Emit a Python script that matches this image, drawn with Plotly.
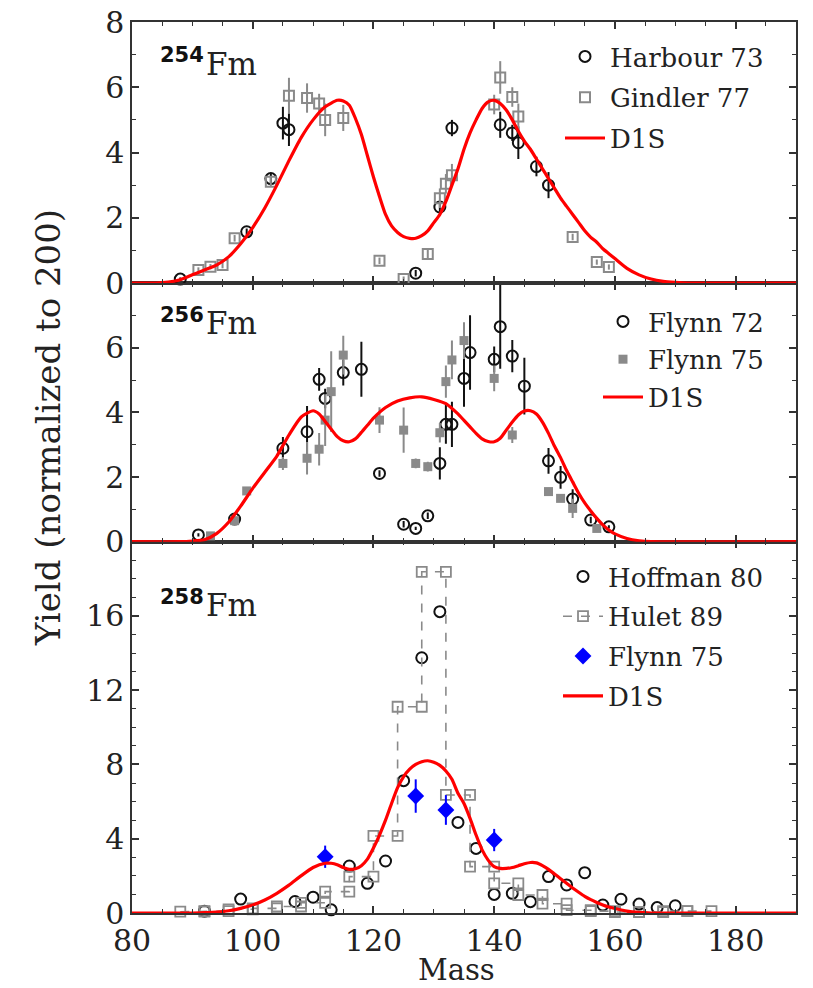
import plotly.graph_objects as go

# ---------------- data ----------------
# 254Fm
harbour_mass = [88, 99, 103, 105, 106, 127, 131, 133, 141, 143, 144, 147, 149]
harbour_yield = [0.12, 1.57, 3.2, 4.9, 4.7, 0.3, 2.33, 4.75, 4.85, 4.6, 4.3, 3.57, 3.0]
harbour_err = [0.05, 0.1, 0.15, 0.5, 0.5, 0.1, 0.15, 0.25, 0.4, 0.25, 0.5, 0.3, 0.4]

gindler_mass = [91, 93, 95, 97, 103, 106, 109, 111, 112, 115, 121, 125, 129, 131, 132, 133, 140, 141, 143, 144, 153, 157, 159]
gindler_yield = [0.4, 0.5, 0.55, 1.37, 3.1, 5.74, 5.67, 5.5, 5.0, 5.06, 0.68, 0.12, 0.89, 2.6, 3.04, 3.3, 5.47, 6.3, 5.7, 5.1, 1.41, 0.64, 0.49]
gindler_err = [0.08, 0.08, 0.1, 0.1, 0.15, 0.55, 0.45, 0.3, 0.5, 0.4, 0.1, 0.08, 0.15, 0.3, 0.3, 0.35, 0.3, 0.5, 0.3, 0.4, 0.1, 0.08, 0.08]

d1s_254_mass = [80, 84, 86, 88, 90, 92, 94, 96, 98, 100, 102, 104, 106, 108, 110, 112, 114, 115, 116, 117, 118, 119,
                120, 121, 122, 123, 124, 125, 126, 127, 128, 129, 130, 131, 132, 133, 134, 135, 136, 137, 138, 139,
                140, 141, 142, 143, 144, 145, 146, 147, 148, 149, 150, 151, 152, 153, 154, 155, 156, 157, 158, 159,
                160, 162, 164, 166, 168, 170, 172, 190]
d1s_254_yield = [0, 0, 0.03, 0.1, 0.25, 0.4, 0.55, 0.8, 1.2, 1.7, 2.3, 3.0, 3.75, 4.45, 5.0, 5.4, 5.6, 5.58, 5.45, 5.05, 4.55, 3.9,
                 3.25, 2.65, 2.1, 1.75, 1.55, 1.42, 1.37, 1.37, 1.45, 1.6, 1.85, 2.1, 2.5, 3.0, 3.5, 4.1, 4.6, 5.0, 5.35, 5.55,
                 5.6, 5.5, 5.3, 5.0, 4.65, 4.35, 4.1, 3.8, 3.5, 3.2, 2.9, 2.6, 2.35, 2.1, 1.85, 1.6, 1.4, 1.25, 1.05, 0.9,
                 0.75, 0.45, 0.25, 0.12, 0.05, 0.02, 0, 0]

# 256Fm
flynn72_mass = [91, 97, 105, 109, 111, 112, 115, 118, 121, 125, 127, 129, 131, 132, 133, 135, 136, 140, 141, 143, 145, 149, 151, 153, 156, 159]
flynn72_yield = [0.21, 0.7, 2.89, 3.4, 5.02, 4.43, 5.23, 5.33, 2.11, 0.54, 0.41, 0.8, 2.42, 3.63, 3.63, 5.05, 5.85, 5.64, 6.65, 5.74, 4.81, 2.5, 1.99, 1.32, 0.67, 0.46]
flynn72_err = [0.05, 0.05, 0.35, 0.8, 0.35, 0.3, 0.4, 0.85, 0.1, 0.1, 0.05, 0.1, 0.5, 0.6, 0.7, 0.88, 1.15, 0.4, 1.3, 0.5, 0.88, 0.4, 0.35, 0.3, 0.1, 0.05]

flynn75m_mass = [93, 97, 99, 105, 109, 111, 112, 113, 115, 121, 125, 127, 129, 131, 132, 133, 135, 140, 143, 149, 151, 153, 157]
flynn75m_yield = [0.18, 0.65, 1.57, 2.42, 2.58, 2.86, 3.76, 4.64, 5.77, 3.76, 3.45, 2.42, 2.32, 3.37, 4.95, 5.62, 6.22, 5.05, 3.3, 1.55, 1.34, 1.03, 0.41]
flynn75m_err = [0.05, 0.1, 0.1, 0.2, 0.5, 0.5, 0.8, 1.25, 0.6, 0.4, 0.7, 0.15, 0.15, 0.3, 0.5, 0.6, 0.57, 0.4, 0.25, 0.1, 0.1, 0.3, 0.1]

d1s_256_mass = [80, 88, 90, 92, 94, 96, 98, 100, 102, 104, 106, 108, 110, 111, 112, 113, 114, 115, 116, 117, 118, 119,
                120, 122, 124, 126, 128, 130, 132, 134, 135, 136, 137, 138, 139, 140, 141, 142, 143, 144, 145, 146,
                147, 148, 149, 150, 151, 152, 153, 154, 155, 156, 157, 158, 159, 160, 162, 164, 166, 190]
d1s_256_yield = [0, 0, 0.02, 0.06, 0.25, 0.6, 1.1, 1.65, 2.15, 2.65, 3.3, 3.85, 4.05, 3.95, 3.72, 3.48, 3.25, 3.12, 3.09, 3.18, 3.38, 3.6,
                 3.82, 4.15, 4.35, 4.45, 4.48, 4.4, 4.27, 3.95, 3.75, 3.55, 3.35, 3.18, 3.1, 3.09, 3.2, 3.45, 3.7, 3.92, 4.04, 4.05,
                 3.95, 3.7, 3.35, 2.95, 2.6, 2.2, 1.85, 1.5, 1.2, 0.95, 0.72, 0.52, 0.36, 0.24, 0.1, 0.03, 0, 0]

# 258Fm
hoffman_mass = [92, 98, 107, 110, 113, 116, 119, 122, 125, 128, 131, 134, 137, 140, 143, 146, 149, 152, 155, 158, 161, 164, 167, 170]
hoffman_yield = [0.1, 0.75, 0.62, 0.85, 0.17, 2.53, 1.6, 2.8, 7.13, 13.75, 16.23, 4.88, 3.48, 1.0, 1.06, 0.61, 1.96, 1.51, 2.17, 0.43, 0.74, 0.48, 0.29, 0.39]

hulet_bin_lo = [88, 92, 96, 100, 104, 108, 112, 116, 120, 124, 128, 132, 136, 140, 144, 148, 152, 156, 160, 164, 168, 172]
hulet_bin_hi = [92, 96, 100, 104, 108, 112, 116, 120, 124, 128, 132, 136, 140, 144, 148, 152, 156, 160, 164, 168, 172, 176]
hulet_yield = [0.07, 0.1, 0.2, 0.25, 0.35, 0.55, 1.15, 1.96, 4.15, 11.11, 18.38, 6.36, 2.5, 1.6, 0.97, 0.5, 0.15, 0.1, 0.05, 0.05, 0.1, 0.1]

flynn75b_mass = [112, 127, 132, 140]
flynn75b_yield = [3.03, 6.3, 5.55, 3.93]
flynn75b_err = [0.6, 0.9, 0.8, 0.6]

d1s_258_mass = [80, 90, 92, 94, 96, 98, 100, 102, 104, 106, 108, 110, 112, 113, 114, 115, 116, 117, 118, 119, 120, 121,
                122, 123, 124, 125, 126, 127, 128, 129, 130, 131, 132, 133, 134, 135, 136, 137, 138, 139, 140, 141,
                142, 143, 144, 145, 146, 147, 148, 149, 150, 151, 152, 153, 154, 155, 156, 157, 158, 159, 160, 162,
                164, 166, 190]
d1s_258_yield = [0, 0, 0.02, 0.05, 0.12, 0.25, 0.43, 0.7, 1.06, 1.5, 2.0, 2.45, 2.68, 2.68, 2.6, 2.45, 2.35, 2.38, 2.55, 2.9, 3.5, 4.2,
                 5.0, 5.9, 6.75, 7.35, 7.75, 8.0, 8.15, 8.2, 8.12, 7.95, 7.65, 7.2, 6.45, 5.9, 5.1, 4.2, 3.4, 2.85, 2.5, 2.4,
                 2.4, 2.45, 2.55, 2.65, 2.72, 2.7, 2.55, 2.35, 2.1, 1.85, 1.6, 1.35, 1.12, 0.9, 0.72, 0.57, 0.43, 0.32, 0.24, 0.1,
                 0.03, 0, 0]

# ---------------- geometry helpers ----------------
# the page body keeps its default 8px margin; figure is sized/offset to compensate
OFF = 8
W, H = 805, 980
PL, PR, PT, PB = 132, 796, 22, 913          # plot area in page pixels
L, T = PL - OFF, PT - OFF
R = W - (PR - OFF)
B = H - (PB - OFF)


def px_x(p):
    return (p - PL) / (PR - PL)


def px_y(p):
    return (PB - p) / (PB - PT)


SERIF = "DejaVu Serif"
GRAY = "#8a8a8a"
BLACK = "#111111"
RED = "#ff0000"

fig = go.Figure()


def err(arr, color):
    return dict(type="data", array=arr, visible=True, thickness=2, width=0, color=color)


# ---------------- top panel (254Fm) ----------------
fig.add_trace(go.Scatter(x=harbour_mass, y=harbour_yield, error_y=err(harbour_err, BLACK), mode="markers",
                         marker=dict(symbol="circle-open", size=11, color=BLACK, line=dict(width=2)),
                         name="Harbour 73", xaxis="x3", yaxis="y3", legend="legend3", legendgroup="a1",
                         cliponaxis=False))
fig.add_trace(go.Scatter(x=gindler_mass, y=gindler_yield, error_y=err(gindler_err, GRAY), mode="markers",
                         marker=dict(symbol="square-open", size=10, color=GRAY, line=dict(width=2)),
                         name="Gindler 77", xaxis="x3", yaxis="y3", legend="legend3", legendgroup="a2",
                         cliponaxis=False))
fig.add_trace(go.Scatter(x=d1s_254_mass, y=d1s_254_yield, mode="lines", line=dict(color=RED, width=3.2, shape="spline", smoothing=0.6),
                         name="D1S", xaxis="x3", yaxis="y3", legend="legend3", legendgroup="a3", cliponaxis=False))

# ---------------- middle panel (256Fm) ----------------
fig.add_trace(go.Scatter(x=flynn72_mass, y=flynn72_yield, error_y=err(flynn72_err, BLACK), mode="markers",
                         marker=dict(symbol="circle-open", size=11, color=BLACK, line=dict(width=2)),
                         name="Flynn 72", xaxis="x2", yaxis="y2", legend="legend2", legendgroup="b1",
                         cliponaxis=False))
fig.add_trace(go.Scatter(x=flynn75m_mass, y=flynn75m_yield, error_y=err(flynn75m_err, GRAY), mode="markers",
                         marker=dict(symbol="square", size=9, color=GRAY),
                         name="Flynn 75", xaxis="x2", yaxis="y2", legend="legend2", legendgroup="b2",
                         cliponaxis=False))
fig.add_trace(go.Scatter(x=d1s_256_mass, y=d1s_256_yield, mode="lines", line=dict(color=RED, width=3.2, shape="spline", smoothing=0.6),
                         name="D1S", xaxis="x2", yaxis="y2", legend="legend2", legendgroup="b3", cliponaxis=False))

# ---------------- bottom panel (258Fm) ----------------
hulet_x, hulet_y = [], []
for lo, hi, v in zip(hulet_bin_lo, hulet_bin_hi, hulet_yield):
    hulet_x += [lo, hi]
    hulet_y += [v, v]

fig.add_trace(go.Scatter(x=hoffman_mass, y=hoffman_yield, mode="markers",
                         marker=dict(symbol="circle-open", size=11, color=BLACK, line=dict(width=2)),
                         name="Hoffman 80", xaxis="x", yaxis="y", legend="legend", legendgroup="c1",
                         cliponaxis=False))
fig.add_trace(go.Scatter(x=hulet_x, y=hulet_y, mode="lines+markers",
                         line=dict(color=GRAY, width=1.6, dash="dash"),
                         marker=dict(symbol="square-open", size=10, color=GRAY, line=dict(width=1.8)),
                         name="Hulet 89", xaxis="x", yaxis="y", legend="legend", legendgroup="c2",
                         cliponaxis=False))
fig.add_trace(go.Scatter(x=flynn75b_mass, y=flynn75b_yield, error_y=err(flynn75b_err, "#0000ff"), mode="markers",
                         marker=dict(symbol="diamond", size=13, color="#0000ff"),
                         name="Flynn 75", xaxis="x", yaxis="y", legend="legend", legendgroup="c3",
                         cliponaxis=False))
fig.add_trace(go.Scatter(x=d1s_258_mass, y=d1s_258_yield, mode="lines", line=dict(color=RED, width=3.2, shape="spline", smoothing=0.6),
                         name="D1S", xaxis="x", yaxis="y", legend="legend", legendgroup="c4", cliponaxis=False))

# ---------------- axes ----------------
AX = "#333333"
common = dict(showline=True, linecolor=AX, linewidth=1.5, mirror="allticks", ticks="inside", ticklen=7,
              tickwidth=1.5, tickcolor=AX, showgrid=False, zeroline=False, ticklabeloverflow="allow",
              automargin=False, tickfont=dict(family=SERIF, size=30, color="#222222"))

d_bot = [0, px_y(541.7)]
d_mid = [px_y(541.7), px_y(283)]
d_top = [px_y(283), 1]

xcommon = dict(common, range=[80, 190], tickmode="linear", tick0=80, dtick=20,
               minor=dict(ticks="inside", ticklen=4, tickwidth=1.2, tickcolor=AX, tick0=80, dtick=5))

fig.update_layout(
    xaxis=dict(xcommon, domain=[0, 1], anchor="y", showticklabels=True),
    xaxis2=dict(xcommon, domain=[0, 1], anchor="y2", matches="x", showticklabels=False),
    xaxis3=dict(xcommon, domain=[0, 1], anchor="y3", matches="x", showticklabels=False),
    yaxis=dict(common, domain=d_bot, anchor="x", range=[0, 20], tickmode="array", tickvals=[0, 4, 8, 12, 16],
               minor=dict(ticks="inside", ticklen=4, tickwidth=1.2, tickcolor=AX, tickmode="linear", tick0=0, dtick=1)),
    yaxis2=dict(common, domain=d_mid, anchor="x2", range=[0, 8], tickmode="array", tickvals=[0, 2, 4, 6],
                minor=dict(ticks="inside", ticklen=4, tickwidth=1.2, tickcolor=AX, tickmode="linear", tick0=0, dtick=1)),
    yaxis3=dict(common, domain=d_top, anchor="x3", range=[0, 8], tickmode="array", tickvals=[0, 2, 4, 6, 8],
                minor=dict(ticks="inside", ticklen=4, tickwidth=1.2, tickcolor=AX, tickmode="linear", tick0=0, dtick=1)),
)

legend_common = dict(font=dict(family=SERIF, size=26, color="#222222"), bgcolor="rgba(0,0,0,0)",
                     borderwidth=0, xanchor="left", yanchor="top", itemwidth=40)

fig.update_layout(
    legend3=dict(legend_common, x=px_x(560), y=px_y(33), tracegroupgap=4),
    legend2=dict(legend_common, x=px_x(598), y=px_y(298), tracegroupgap=1),
    legend=dict(legend_common, x=px_x(558), y=px_y(553), tracegroupgap=3),
)

# ---------------- annotations ----------------
ann = []
for sup, ysup, yfm in [("254", 55, 64), ("256", 315, 323), ("258", 597, 605)]:
    ann.append(dict(text="<b>%s</b>" % sup, x=px_x(158), y=px_y(ysup), xref="paper", yref="paper",
                    xanchor="left", yanchor="middle", showarrow=False,
                    font=dict(family="DejaVu Sans", size=21, color="#111111")))
    ann.append(dict(text="Fm", x=px_x(204), y=px_y(yfm), xref="paper", yref="paper",
                    xanchor="left", yanchor="middle", showarrow=False,
                    font=dict(family=SERIF, size=31, color="#222222")))

ann.append(dict(text="Yield (normalized to 200)", textangle=-90, x=px_x(48), y=px_y(428), xref="paper", yref="paper",
                xanchor="center", yanchor="middle", showarrow=False,
                font=dict(family=SERIF, size=34, color="#222222")))
ann.append(dict(text="Mass", x=px_x(456), y=px_y(970), xref="paper", yref="paper",
                xanchor="center", yanchor="middle", showarrow=False,
                font=dict(family=SERIF, size=29, color="#222222")))

fig.update_layout(
    width=W, height=H, margin=dict(l=L, r=R, t=T, b=B, autoexpand=False),
    paper_bgcolor="white", plot_bgcolor="white",
    annotations=ann, showlegend=True,
)

fig.write_html("out.html", config={"displayModeBar": False})
